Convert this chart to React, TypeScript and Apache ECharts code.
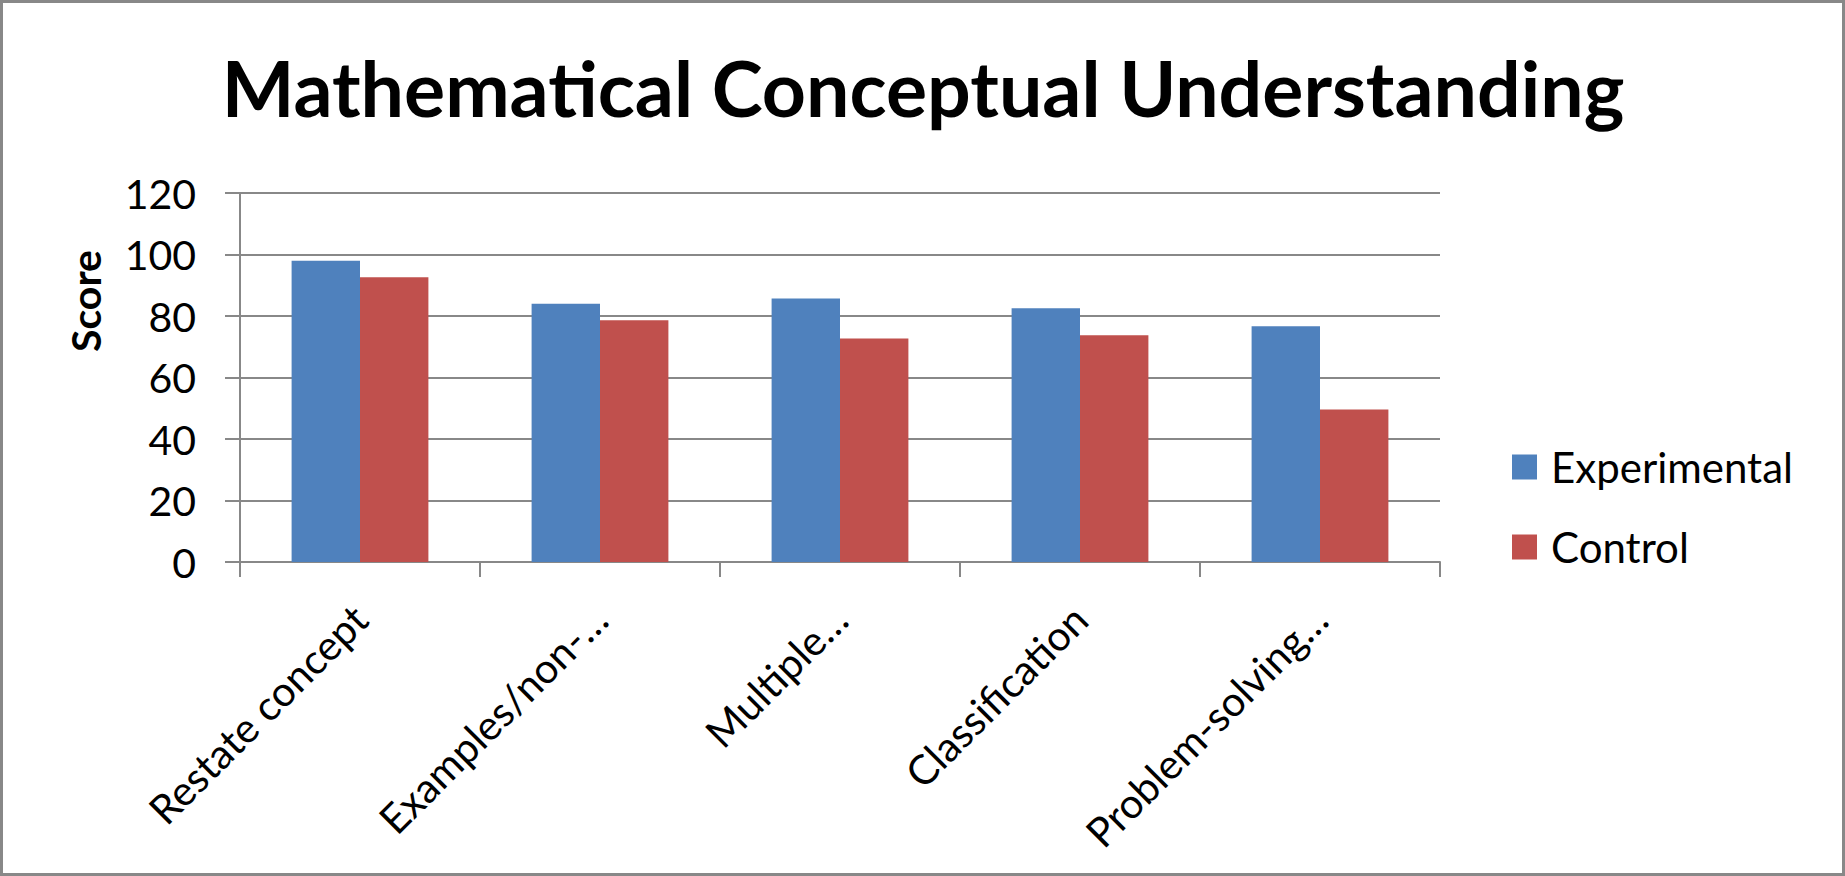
import React, { useEffect, useRef } from "react";
import * as echarts from "echarts";

const categories = ["Restate concept", "Examples/non-…", "Multiple…", "Classification", "Problem-solving…"];
const experimental = [98, 84, 85.7, 82.5, 76.7];
const control = [92.6, 78.6, 72.7, 73.7, 49.6];
const seriesNames = ["Experimental", "Control"];
const yMin = 0;
const yMax = 120;
const yInterval = 20;

const W = 1845;
const H = 876;
const FONT = "Lato";
const GRID = "#888888";

export default function App() {
  const ref = useRef<HTMLDivElement>(null);
  useEffect(() => {
    if (!ref.current) return;
    const chart = echarts.init(ref.current, undefined, { renderer: "svg" });
    chart.setOption({
      animation: false,
      backgroundColor: "#ffffff",
      grid: { left: 240, right: W - 1440, top: 193, bottom: H - 562 },
      legend: {
        orient: "vertical",
        left: 1512,
        top: 446,
        itemWidth: 25,
        itemHeight: 25,
        itemGap: 38,
        padding: 0,
        icon: "rect",
        data: seriesNames,
        textStyle: { fontFamily: FONT, fontSize: 42, color: "#000", lineHeight: 42, padding: [0, 0, 0, 9] },
      },
      xAxis: {
        type: "category",
        data: categories,
        axisLine: { lineStyle: { color: GRID, width: 2 } },
        axisTick: { show: true, length: 15, lineStyle: { color: GRID, width: 2 } },
        axisLabel: {
          rotate: 45,
          interval: 0,
          margin: 50,
          fontFamily: FONT,
          fontSize: 41,
          color: "#000",
        },
      },
      yAxis: {
        type: "value",
        min: yMin,
        max: yMax,
        interval: yInterval,
        axisLine: { show: true, lineStyle: { color: GRID, width: 2 } },
        axisTick: { show: true, length: 15, lineStyle: { color: GRID, width: 2 } },
        splitLine: { show: true, lineStyle: { color: GRID, width: 2 } },
        axisLabel: { margin: 44, fontFamily: FONT, fontSize: 41, color: "#000" },
      },
      series: [
        {
          name: seriesNames[0],
          type: "bar",
          data: experimental,
          barGap: "0%",
          barCategoryGap: "43%",
          itemStyle: { color: "#4F81BD" },
        },
        {
          name: seriesNames[1],
          type: "bar",
          data: control,
          barGap: "0%",
          barCategoryGap: "43%",
          itemStyle: { color: "#C0504D" },
        },
      ],
      graphic: [
        {
          type: "rect",
          shape: { x: 1.5, y: 1.5, width: W - 3, height: H - 3 },
          style: { fill: "none", stroke: GRID, lineWidth: 3 },
          silent: true,
        },
        {
          type: "text",
          x: 923,
          y: 87,
          style: {
            text: "Mathematical Conceptual Understanding",
            fontFamily: FONT,
            fontWeight: "bold",
            fontSize: 77,
            fill: "#000",
            align: "center",
            verticalAlign: "middle",
          },
        },
        {
          type: "text",
          x: 85,
          y: 301,
          rotation: Math.PI / 2,
          style: {
            text: "Score",
            fontFamily: FONT,
            fontWeight: "bold",
            fontSize: 41,
            fill: "#000",
            align: "center",
            verticalAlign: "middle",
          },
        },
      ],
    });
    return () => chart.dispose();
  }, []);
  return (
    <div
      ref={ref}
      style={{ position: "fixed", left: 0, top: 0, width: W, height: H, background: "#fff" }}
    />
  );
}
